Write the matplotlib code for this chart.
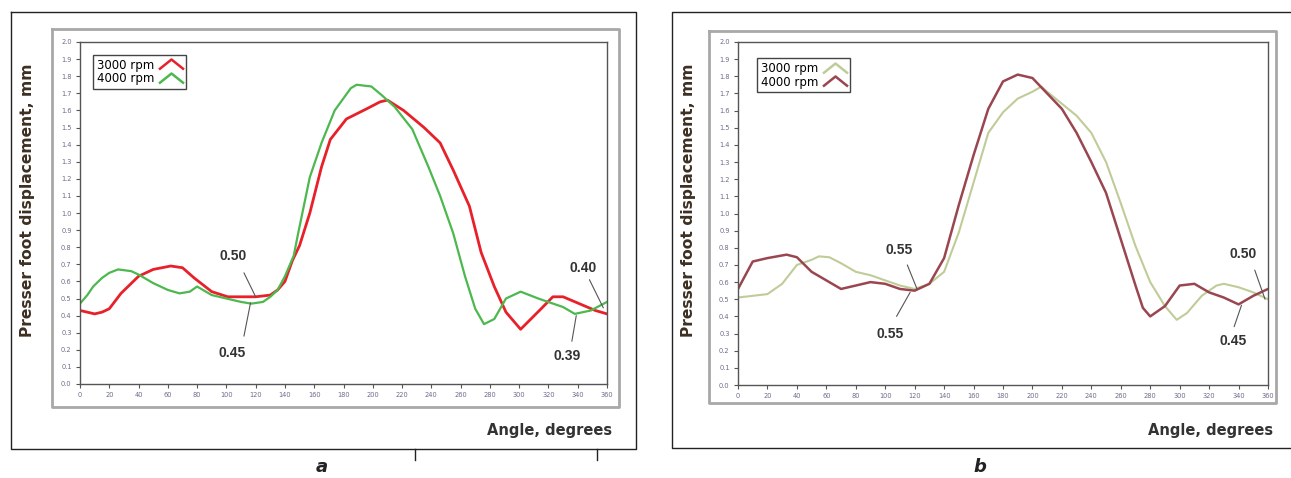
import numpy as np
import matplotlib
matplotlib.use("Agg")
import matplotlib.pyplot as plt
from matplotlib.path import Path
from matplotlib.lines import Line2D

W, H = 1291, 478

# ---- data ----
# panel a
a_x_3000 = [0, 10, 15, 20, 28, 40, 50, 62, 70, 78, 90, 101, 110, 120, 130, 135, 140, 145, 150, 157,
            165, 171, 182, 196, 205, 210, 221, 235, 246, 255, 266, 274, 283, 291, 301, 308, 315,
            323, 330, 341, 352, 360]
a_y_3000 = [0.43, 0.41, 0.42, 0.44, 0.53, 0.63, 0.67, 0.69, 0.68, 0.62, 0.54, 0.51, 0.51, 0.51,
            0.52, 0.55, 0.60, 0.72, 0.81, 1.00, 1.27, 1.43, 1.55, 1.61, 1.65, 1.66, 1.60, 1.50,
            1.41, 1.25, 1.04, 0.77, 0.57, 0.42, 0.32, 0.38, 0.44, 0.51, 0.51, 0.47, 0.43, 0.41]
a_x_4000 = [0, 5, 9, 15, 20, 26, 35, 40, 50, 60, 68, 75, 80, 90, 100, 110, 117, 125, 130, 135,
            140, 146, 149, 157, 165, 174, 185, 189, 199, 206, 215, 227, 238, 246, 255, 263, 270,
            276, 283, 291, 301, 313, 330, 338, 349, 360]
a_y_4000 = [0.47, 0.52, 0.57, 0.62, 0.65, 0.67, 0.66, 0.64, 0.59, 0.55, 0.53, 0.54, 0.57, 0.52,
            0.50, 0.48, 0.47, 0.48, 0.51, 0.55, 0.63, 0.75, 0.88, 1.21, 1.41, 1.60, 1.73, 1.75,
            1.74, 1.69, 1.62, 1.49, 1.27, 1.10, 0.88, 0.63, 0.44, 0.35, 0.38, 0.50, 0.54, 0.50,
            0.45, 0.41, 0.43, 0.48]

# panel b
b_x_3000 = [0, 10, 20, 30, 40, 50, 55, 62, 70, 80, 90, 100, 110, 120, 130, 140, 150, 160, 170,
            180, 190, 200, 206, 210, 220, 230, 240, 250, 260, 270, 280, 290, 298, 305, 315, 325,
            330, 340, 350, 360]
b_y_3000 = [0.51, 0.52, 0.53, 0.59, 0.70, 0.73, 0.75, 0.745, 0.71, 0.66, 0.64, 0.61, 0.58, 0.56,
            0.59, 0.66, 0.89, 1.18, 1.47, 1.59, 1.67, 1.71, 1.74, 1.71, 1.64, 1.57, 1.47, 1.30,
            1.06, 0.81, 0.60, 0.46, 0.38, 0.42, 0.52, 0.58, 0.59, 0.57, 0.54, 0.50]
b_x_4000 = [0, 10, 20, 33, 40, 50, 60, 70, 80, 90, 100, 110, 120, 130, 140, 150, 160, 170, 180,
            190, 200, 210, 220, 230, 240, 250, 260, 270, 275, 280, 290, 300, 310, 320, 330, 340,
            350, 360]
b_y_4000 = [0.56, 0.72, 0.74, 0.76, 0.745, 0.66, 0.61, 0.56, 0.58, 0.60, 0.59, 0.56, 0.55, 0.59,
            0.74, 1.05, 1.34, 1.61, 1.77, 1.81, 1.79, 1.70, 1.61, 1.47, 1.30, 1.12, 0.85, 0.58,
            0.45, 0.40, 0.46, 0.58, 0.59, 0.54, 0.51, 0.47, 0.52, 0.56]

series_labels = ["3000 rpm", "4000 rpm"]
x_ticks = np.arange(0, 361, 20)
y_ticks = np.round(np.arange(0, 2.01, 0.1), 1)

# annotations: label, text pos, line start, line end
a_notes = [("0.50", (104.5, 0.75), (112, 0.65), (120, 0.51)),
           ("0.45", (104, 0.18), (112, 0.28), (116.5, 0.475)),
           ("0.40", (343.6, 0.68), (348, 0.61), (357.5, 0.445)),
           ("0.39", (333, 0.165), (336, 0.25), (339, 0.40))]
b_notes = [("0.55", (109.6, 0.79), (115, 0.70), (121.6, 0.56)),
           ("0.55", (103.5, 0.30), (107.7, 0.40), (116.9, 0.54)),
           ("0.50", (342.8, 0.765), (351, 0.67), (358, 0.50)),
           ("0.45", (336, 0.255), (337, 0.34), (342, 0.465))]


def frac(x0, y0, x1, y1):
    # pixel box -> figure fraction [left, bottom, width, height]
    return [x0 / W, 1 - y1 / H, (x1 - x0) / W, (y1 - y0) / H]


fig = plt.figure(figsize=(W / 100, H / 100), dpi=100)

# outer boxes
def fig_line(xs, ys, **kw):
    fig.add_artist(Line2D([x / W for x in xs], [1 - y / H for y in ys], **kw))

fig_line([11, 636, 636, 11, 11], [12, 12, 449, 449, 12], color="#222222", lw=1.0)
fig_line([1291, 672, 672, 1291], [12, 12, 448, 448], color="#222222", lw=1.0)
fig_line([415, 415], [449, 460], color="#222222", lw=1.0)
fig_line([597, 597], [449, 460], color="#222222", lw=1.0)

# gray inner frames
for (x0, y0, x1, y1) in [(52, 29, 619, 407), (709, 31, 1276, 403)]:
    fig_line([x0, x1, x1, x0, x0], [y0, y0, y1, y1, y0], color="#a8a8a8", lw=2.0)

chevron = Path([(-1, -0.4), (0, 0.4), (1, -0.4)], [Path.MOVETO, Path.LINETO, Path.LINETO])


def make_panel(box, xs, ys, colors, lws, notes, leg_anchor, ylab_x, letter, letter_x):
    ax = fig.add_axes(frac(*box))
    for x, y, c, lw in zip(xs, ys, colors, lws):
        ax.plot(x, y, color=c, lw=lw)
    ax.set_xlim(0, 360)
    ax.set_ylim(0, 2.0)
    ax.set_xticks(x_ticks)
    ax.set_yticks(y_ticks)
    ax.set_yticklabels(["%.1f" % v for v in y_ticks])
    ax.tick_params(direction="out", length=3, width=0.8, labelsize=4.8,
                   labelcolor="#6c6c8c", color="#555555", pad=3)
    for s in ax.spines.values():
        s.set_color("#555555")
        s.set_linewidth(1.0)

    handles = [Line2D([], [], ls="none", marker=chevron, markersize=18, markeredgewidth=1.8,
                      markerfacecolor="none", markeredgecolor=c) for c in colors]
    leg = ax.legend(handles, series_labels, loc="upper left", bbox_to_anchor=leg_anchor,
                    borderaxespad=0, fancybox=False, markerfirst=False, fontsize=8.5,
                    handlelength=2.0, handletextpad=0.4, borderpad=0.3, labelspacing=0.05,
                    framealpha=1)
    leg.get_frame().set_edgecolor("#444444")
    leg.get_frame().set_linewidth(1.0)

    for label, tpos, p0, p1 in notes:
        ax.text(tpos[0], tpos[1], label, ha="center", va="center", fontsize=10,
                fontweight="bold", color="#333333", family="Liberation Sans")
        ax.annotate("", xy=p1, xytext=p0,
                    arrowprops=dict(arrowstyle="-", color="#555555", lw=0.8,
                                    shrinkA=0, shrinkB=0))

    fig.text(ylab_x / W, 1 - 200 / H, "Presser foot displacement, mm", rotation=90,
             ha="center", va="center", fontsize=11.2, fontweight="bold", color="#3d3022")
    fig.text((box[2] + 5) / W, 1 - 430 / H, "Angle, degrees", ha="right", va="center",
             fontsize=10.5, fontweight="bold", color="#333333")
    fig.text(letter_x / W, 1 - 467 / H, letter, ha="center", va="center", fontsize=13,
             fontweight="bold", style="italic", color="#222222")
    return ax


make_panel((80, 42, 607, 384), [a_x_3000, a_x_4000], [a_y_3000, a_y_4000],
           ["#e8202a", "#4cb84e"], [2.0, 1.6], a_notes, (0.025, 0.962), 28, "a", 322)
make_panel((738, 42, 1268, 385), [b_x_3000, b_x_4000], [b_y_3000, b_y_4000],
           ["#c0cc98", "#9a4650"], [1.5, 1.8], b_notes, (0.036, 0.952), 688, "b", 980)

fig.savefig("out.png", dpi=100)
